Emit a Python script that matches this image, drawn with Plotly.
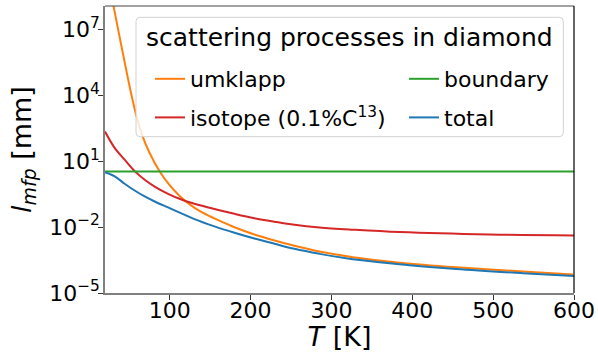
import plotly.graph_objects as go

# Mean free path of phonons in diamond versus temperature (mm)
T_umklapp = [25.4, 30.3, 36.5, 43.9, 51.4, 58.8, 66.2, 74.9, 87.3, 99.6, 112.0, 124.4,
             136.8, 155.3, 180.1, 204.8, 229.6, 254.3, 285.3, 326.5, 384.3, 454.5,
             536.9, 598.8]
l_umklapp = [1.05e9, 1.23e8, 8.51e6, 3.72e5, 1.70e4, 1148, 144.5, 24.5, 3.52, 0.815,
             0.267, 0.110, 0.0537, 0.0245, 9.77e-3, 4.57e-3, 2.45e-3, 1.41e-3, 7.76e-4,
             4.27e-4, 2.40e-4, 1.48e-4, 9.55e-5, 6.92e-5]

T_isotope = [20, 31.9, 44.3, 56.7, 69.1, 81.4, 98.0, 114.5, 130.6, 155.3, 180.1, 204.8,
             229.6, 254.3, 285.3, 326.5, 384.3, 495.7, 600]
l_isotope = [219, 39.8, 11.5, 3.47, 1.41, 0.692, 0.324, 0.178, 0.115, 0.0661, 0.0398,
             0.0251, 0.0174, 0.0126, 9.55e-3, 7.59e-3, 5.89e-3, 4.57e-3, 4.17e-3]

T_boundary = [20, 600]
l_boundary = [3.34, 3.34]

T_total = [20, 32, 44.3, 56.7, 69.1, 81.4, 98, 114.5, 130.6, 155.3, 180.1, 204.8,
           229.6, 254.3, 285.3, 326.5, 384.3, 454.5, 536.9, 600]
l_total = [3.09, 2.0, 0.933, 0.457, 0.245, 0.145, 0.0776, 0.0417, 0.0229, 0.0107,
           5.5e-3, 3.02e-3, 1.74e-3, 1.02e-3, 6.03e-4, 3.39e-4, 2.04e-4, 1.23e-4,
           7.94e-5, 5.89e-5]

x_ticks = [100, 200, 300, 400, 500, 600]
y_ticks = [1e-5, 1e-2, 1e1, 1e4, 1e7]
y_ticktext = ["10<sup>\u22125</sup>", "10<sup>\u22122</sup>", "10<sup>1</sup>",
              "10<sup>4</sup>", "10<sup>7</sup>"]

FONT = "DejaVu Sans"
ORANGE, RED, GREEN, BLUE = "#ff7f0e", "#d62728", "#2ca02c", "#1f77b4"

fig = go.Figure()
line_kw = dict(shape="spline", smoothing=1.0, width=2)

fig.add_trace(go.Scatter(x=T_umklapp, y=l_umklapp, mode="lines", name="umklapp",
                         line=dict(color=ORANGE, **line_kw), legend="legend",
                         legendgroup="a"))
fig.add_trace(go.Scatter(x=T_isotope, y=l_isotope, mode="lines",
                         name="isotope (0.1%C<sup>13</sup>)",
                         line=dict(color=RED, **line_kw), legend="legend",
                         legendgroup="b"))
fig.add_trace(go.Scatter(x=T_boundary, y=l_boundary, mode="lines", name="boundary",
                         line=dict(color=GREEN, width=2), legend="legend2",
                         legendgroup="c"))
fig.add_trace(go.Scatter(x=T_total, y=l_total, mode="lines", name="total",
                         line=dict(color=BLUE, **line_kw), legend="legend2",
                         legendgroup="d"))

# legend frame (rounded, semi-transparent like a matplotlib legend box)
W, H = 469.0, 287.0
x0, x1 = (136 - 105) / W, (563.3 - 105) / W
y0, y1 = (293 - 136.7) / H, (293 - 17.3) / H
rx, ry = 4 / W, 4 / H
frame = (f"M {x0+rx},{y1} L {x1-rx},{y1} Q {x1},{y1} {x1},{y1-ry} "
         f"L {x1},{y0+ry} Q {x1},{y0} {x1-rx},{y0} L {x0+rx},{y0} "
         f"Q {x0},{y0} {x0},{y0+ry} L {x0},{y1-ry} Q {x0},{y1} {x0+rx},{y1} Z")

shapes = [
    dict(type="path", path=frame, xref="paper", yref="paper", layer="above",
         fillcolor="rgba(255,255,255,0.8)", line=dict(color="rgba(204,204,204,0.9)", width=1)),
    dict(type="line", xref="paper", yref="paper", x0=0, x1=1, y0=1, y1=1,
         line=dict(color="#444444", width=1.2)),
    dict(type="line", xref="paper", yref="paper", x0=1, x1=1, y0=0, y1=1,
         line=dict(color="#000000", width=1.2)),
]

annotations = [
    dict(text="scattering processes in diamond", xref="paper", yref="paper",
         x=(x0 + x1) / 2, y=(293 - 37) / H, xanchor="center", yanchor="middle",
         showarrow=False, font=dict(size=25, family=FONT, color="black")),
]

fig.update_layout(
    width=598, height=352,
    margin=dict(l=105, r=24, t=6, b=59),
    paper_bgcolor="white", plot_bgcolor="white",
    font=dict(family=FONT, color="black"),
    shapes=shapes,
    annotations=annotations,
    legend=dict(
        x=(150 - 105) / W, y=(293 - 58) / H, xanchor="left", yanchor="top",
        bgcolor="rgba(0,0,0,0)", borderwidth=0,
        font=dict(size=22, family=FONT), tracegroupgap=7,
    ),
    legend2=dict(
        x=(404 - 105) / W, y=(293 - 58) / H, xanchor="left", yanchor="top",
        bgcolor="rgba(0,0,0,0)", borderwidth=0,
        font=dict(size=22, family=FONT), tracegroupgap=7,
    ),
    xaxis=dict(
        range=[20, 600], tickvals=x_ticks, ticks="outside", ticklen=5,
        tickcolor="#333333", tickwidth=1, automargin=False, ticklabelstandoff=-8,
        showline=True, linecolor="#808080", linewidth=1.5,
        showgrid=False, zeroline=False,
        tickfont=dict(size=22, family=FONT),
        title=dict(text="<i>T</i> [K]", font=dict(size=27, family=FONT), standoff=4),
    ),
    yaxis=dict(
        type="log", range=[-5, 8.05], tickvals=y_ticks, ticktext=y_ticktext,
        ticks="outside", ticklen=5, tickcolor="#333333", tickwidth=1, automargin=False,
        ticklabelstandoff=-6,
        showline=True, linecolor="#808080", linewidth=1.5,
        showgrid=False, zeroline=False,
        tickfont=dict(size=22, family=FONT),
        title=dict(text="<i>l</i><sub><i>mfp</i></sub> [mm]",
                   font=dict(size=27, family=FONT), standoff=10),
    ),
)

fig.write_html("out.html")
